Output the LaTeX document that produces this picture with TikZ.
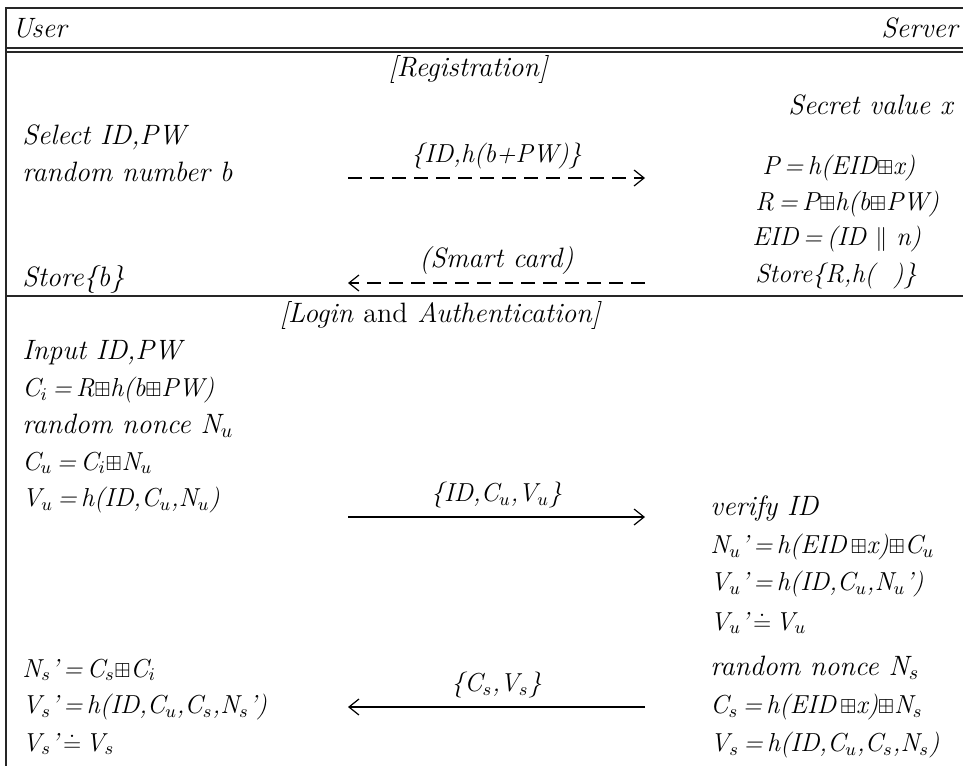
\documentclass[tikz,border=0pt]{standalone}
\usepackage{amsmath,amssymb,graphicx}
\usetikzlibrary{arrows.meta}
\newcommand{\bx}{\scalebox{0.78}{$\boxplus$}}
\newcommand{\sbs}[1]{$_{#1}$}
\newcommand{\eq}{\,=\,}
\newcommand{\deq}{\,\smash{$\doteq$}\,}
\begin{document}
\begin{tikzpicture}[x=0.5pt,y=-0.5pt,
  txt/.style={anchor=west,inner sep=0pt,font=\fontsize{14}{16}\selectfont\itshape},
  ftxt/.style={txt,font=\fontsize{13}{15}\selectfont\itshape},
  rtxt/.style={txt,anchor=east},
  ctxt/.style={txt,anchor=center},
  cftxt/.style={ftxt,anchor=center},
  rule/.style={line width=1pt,draw=black!85},
  msg/.style={line width=0.6pt,-{Straight Barb[length=5pt,width=8pt]}},
  dmsg/.style={msg,dash pattern=on 7pt off 4pt}]
\useasboundingbox (0,0) rectangle (963,766);
% frame
\draw[rule] (963,8) -- (6,8) -- (6,766);
\draw[rule] (6,48) -- (963,48);
\draw[rule] (6,52) -- (963,52);
\draw[rule] (6,296) -- (963,296);
% header
\node[txt] (user) at (12,28) {User};
\node[rtxt] (server) at (958,28) {Server};
% registration
\node[ctxt] (reg) at (468,69) {[Registration]};
\node[rtxt] (secret) at (953,105) {Secret value x};
\node[txt] (sel) at (22,137) {Select ID,PW};
\node[txt] (rnb) at (22,172) {random number b};
\node[ftxt] (P) at (762,168) {P\eq h(EID\bx x)};
\node[ftxt] (R) at (755,204) {R\eq P\bx h(b\bx PW)};
\node[ftxt] (EID) at (752,239) {EID\eq (ID $\parallel$ n)};
\node[ftxt] (storeR) at (755,276) {Store\{R,h(\ \ )\}};
\node[txt] (storeb) at (22,279) {Store\{b\}};
\coordinate (a1s) at (348,178);
\coordinate (a1e) at (645,178);
\draw[dmsg] (a1s) -- node[cftxt,above=4pt] (l1) {\{ID,h(b+PW)\}} (a1e);
\coordinate (a2s) at (645,283);
\coordinate (a2e) at (348,283);
\draw[dmsg] (a2s) -- node[ctxt,above=4pt] (l2) {(Smart card)} (a2e);
% login
\node[ctxt] (login) at (440,315) {[Login \textup{and} Authentication]};
\node[txt] (inp) at (22,353) {Input ID,PW};
\node[ftxt] (Ci) at (22,390) {C\sbs{i}\eq R\bx h(b\bx PW)};
\node[txt] (rnu) at (22,426) {random nonce N\sbs{u}};
\node[ftxt] (Cu) at (22,463) {C\sbs{u}\eq C\sbs{i}\bx N\sbs{u}};
\node[ftxt] (Vu) at (22,500) {V\sbs{u}\eq h(ID,C\sbs{u},N\sbs{u})};
\coordinate (a3s) at (348,517);
\coordinate (a3e) at (645,517);
\draw[msg] (a3s) -- node[cftxt,above=4pt] (l3) {\{ID,C\sbs{u},V\sbs{u}\}} (a3e);
\node[txt] (ver) at (710,508) {verify ID};
\node[ftxt] (Nu1) at (710,547) {N\sbs{u}'\eq h(EID\,\bx x)\bx C\sbs{u}};
\node[ftxt] (Vu1) at (710,584) {V\sbs{u}'\eq h(ID,C\sbs{u},N\sbs{u}')};
\node[ftxt] (chk1) at (710,623) {V\sbs{u}'\deq V\sbs{u}};
\node[txt] (rns) at (710,668) {random nonce N\sbs{s}};
\node[ftxt] (Cs) at (710,707) {C\sbs{s}\eq h(EID\,\bx x)\bx N\sbs{s}};
\node[ftxt] (Vs) at (710,745) {V\sbs{s}\eq h(ID,C\sbs{u},C\sbs{s},N\sbs{s})};
\node[ftxt] (Ns1) at (22,670) {N\sbs{s}'\eq C\sbs{s}\bx C\sbs{i}};
\node[ftxt] (Vs1) at (22,707) {V\sbs{s}'\eq h(ID,C\sbs{u},C\sbs{s},N\sbs{s}')};
\node[ftxt] (chk2) at (22,744) {V\sbs{s}'\deq V\sbs{s}};
\coordinate (a4s) at (645,707);
\coordinate (a4e) at (348,707);
\draw[msg] (a4s) -- node[cftxt,above=4pt] (l4) {\{C\sbs{s},V\sbs{s}\}} (a4e);
\end{tikzpicture}
\end{document}
